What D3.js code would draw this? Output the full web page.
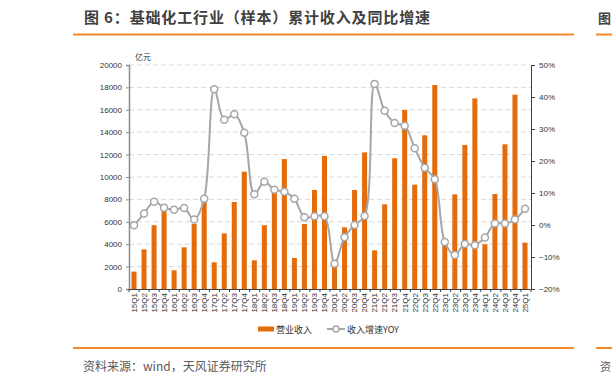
<!DOCTYPE html>
<html>
<head>
<meta charset="utf-8">
<script src="https://cdn.jsdelivr.net/npm/d3@7"></script>
<style>
  body { margin: 0; background: #fff; }
  svg { display: block; }
  text { font-family: "Liberation Sans", Arial, "Noto Sans CJK SC", sans-serif; }
  .cn { font-family: "Noto Sans CJK SC", sans-serif; }
</style>
</head>
<body>
<svg width="612" height="384"></svg>
<script>
const quarters = ["15Q1","15Q2","15Q3","15Q4","16Q1","16Q2","16Q3","16Q4","17Q1","17Q2","17Q3","17Q4",
  "18Q1","18Q2","18Q3","18Q4","19Q1","19Q2","19Q3","19Q4","20Q1","20Q2","20Q3","20Q4",
  "21Q1","21Q2","21Q3","21Q4","22Q2","22Q3","22Q4","23Q1","23Q2","23Q3","23Q4",
  "24Q1","24Q2","24Q3","24Q4","25Q1"];
const revenue = [1550, 3540, 5690, 7560, 1670, 3720, 5800, 7950, 2380, 4970, 7770, 10480,
  2560, 5690, 8660, 11600, 2770, 5800, 8840, 11880, 2050, 5510, 8840, 12200,
  3450, 7560, 11670, 15980, 9320, 13720, 18210, 4140, 8450, 12860, 17020,
  3990, 8480, 12920, 17350, 4140];
const yoy = [-0.1, 3.6, 7.3, 5.4, 4.8, 5.3, 1.7, 8.2, 42.4, 32.9, 34.6, 28.8,
  9.6, 13.5, 11.0, 10.4, 8.2, 2.4, 2.7, 2.7, -12.1, -3.8, 0.0, 2.8,
  44.1, 35.7, 31.9, 31.0, 24.0, 17.9, 14.3, -5.3, -9.4, -5.9, -6.3,
  -3.9, 0.5, 0.5, 1.7, 5.1];
const leftTicks = d3.range(0, 20001, 2000);
const rightTicks = d3.range(-20, 51, 10);

const orange = "#e46c0a";
const lineGray = "#a6a6a6";
const accent = "#f58a2a";

const plotL = 129, plotR = 531, plotT = 65, plotB = 289;

const svg = d3.select("svg");

// header and footer (the neighbouring figure starts at the right edge, as in the source)
svg.append("text").attr("class", "cn")
  .attr("x", 84).attr("y", 23)
  .attr("font-size", 15).attr("font-weight", "bold").attr("fill", "#404040")
  .attr("textLength", 346).attr("lengthAdjust", "spacing")
  .text("图 6：基础化工行业（样本）累计收入及同比增速");
svg.append("text").attr("class", "cn")
  .attr("x", 598).attr("y", 23)
  .attr("font-size", 13).attr("font-weight", "bold").attr("fill", "#404040")
  .text("图");
[[73, 574], [596, 612]].forEach(([a, b]) => {
  svg.append("line").attr("x1", a).attr("x2", b).attr("y1", 34.5).attr("y2", 34.5)
    .attr("stroke", accent).attr("stroke-width", 2);
  svg.append("line").attr("x1", a).attr("x2", b).attr("y1", 348).attr("y2", 348)
    .attr("stroke", accent).attr("stroke-width", 2);
});
svg.append("text").attr("class", "cn")
  .attr("x", 83).attr("y", 371)
  .attr("font-size", 12).attr("fill", "#595959")
  .text("资料来源：wind，天风证券研究所");
svg.append("text").attr("class", "cn")
  .attr("x", 600).attr("y", 371)
  .attr("font-size", 11).attr("fill", "#595959")
  .text("资");

// scales
const x = d3.scaleBand().domain(quarters).range([plotL, plotR - 1]).paddingInner(0.5).paddingOuter(0.25);
const yL = d3.scaleLinear().domain([0, 20000]).range([plotB, plotT]);
const yR = d3.scaleLinear().domain([-20, 50]).range([plotB, plotT]);

// grid
svg.append("g").selectAll("line")
  .data(leftTicks.filter(d => d > 0))
  .join("line")
  .attr("x1", plotL).attr("x2", plotR)
  .attr("y1", d => yL(d)).attr("y2", d => yL(d))
  .attr("stroke", "#d9d9d9").attr("stroke-dasharray", "5,3");

// bars
svg.append("g").selectAll("rect")
  .data(revenue)
  .join("rect")
  .attr("x", (d, i) => x(quarters[i]))
  .attr("width", x.bandwidth())
  .attr("y", d => yL(d))
  .attr("height", d => yL(0) - yL(d))
  .attr("fill", orange);

// axes
const axL = svg.append("g").attr("transform", `translate(${plotL},0)`)
  .call(d3.axisLeft(yL).tickValues(leftTicks).tickFormat(d3.format("d")).tickSize(3).tickPadding(4));
axL.select(".domain").attr("stroke", "#8c8c8c").attr("stroke-width", 1.5);
axL.selectAll(".tick line").attr("stroke", "#8c8c8c");
axL.selectAll("text").attr("font-size", 8).attr("fill", "#333");

svg.append("text").attr("class", "cn")
  .attr("x", 135).attr("y", 60).attr("font-size", 8).attr("fill", "#333")
  .text("亿元");

const axR = svg.append("g").attr("transform", `translate(${plotR},0)`)
  .call(d3.axisRight(yR).tickValues(rightTicks).tickSize(4).tickPadding(4)
    .tickFormat(d => (d < 0 ? "\u2212" + Math.abs(d) : d) + "%"));
axR.select(".domain").attr("stroke", "#404040");
axR.selectAll(".tick line").attr("stroke", "#404040");
axR.selectAll("text").attr("font-size", 8).attr("fill", "#333");

const axB = svg.append("g").attr("transform", `translate(0,${plotB})`)
  .call(d3.axisBottom(x).tickSize(0).tickPadding(3));
axB.select(".domain").attr("stroke", "#404040");
axB.selectAll("text")
  .attr("font-size", 8).attr("fill", "#333")
  .attr("transform", "rotate(-90)")
  .attr("text-anchor", "end")
  .attr("dy", "0.35em")
  .attr("x", -4).attr("y", 0);
axB.append("g").selectAll("line")
  .data(quarters.concat(["end"]))
  .join("line")
  .attr("x1", (d, i) => plotL + i * (plotR - plotL) / quarters.length)
  .attr("x2", (d, i) => plotL + i * (plotR - plotL) / quarters.length)
  .attr("y1", 0).attr("y2", 3)
  .attr("stroke", "#404040");

// yoy line
const pts = yoy.map((v, i) => [x(quarters[i]) + x.bandwidth() / 2, yR(v)]);
svg.append("path")
  .datum(pts)
  .attr("fill", "none")
  .attr("stroke", lineGray)
  .attr("stroke-width", 2)
  .attr("d", d3.line().curve(d3.curveCatmullRom.alpha(0.5)));
svg.append("g").selectAll("circle")
  .data(pts)
  .join("circle")
  .attr("cx", d => d[0]).attr("cy", d => d[1])
  .attr("r", 3.5)
  .attr("fill", "#fff")
  .attr("stroke", lineGray)
  .attr("stroke-width", 1.5);

// legend
const lg = svg.append("g").attr("transform", "translate(0,329)");
lg.append("rect").attr("x", 258).attr("y", -2.5).attr("width", 16).attr("height", 5).attr("fill", orange);
lg.append("text").attr("class", "cn").attr("x", 276).attr("y", 3.5)
  .attr("font-size", 9).attr("fill", "#333").text("营业收入");
lg.append("line").attr("x1", 327).attr("x2", 345).attr("y1", 0).attr("y2", 0)
  .attr("stroke", lineGray).attr("stroke-width", 2);
lg.append("circle").attr("cx", 336).attr("cy", 0).attr("r", 3)
  .attr("fill", "#fff").attr("stroke", lineGray).attr("stroke-width", 1.5);
lg.append("text").attr("class", "cn").attr("x", 347).attr("y", 3.5)
  .attr("font-size", 9).attr("fill", "#333").text("收入增速YOY");
</script>
</body>
</html>
